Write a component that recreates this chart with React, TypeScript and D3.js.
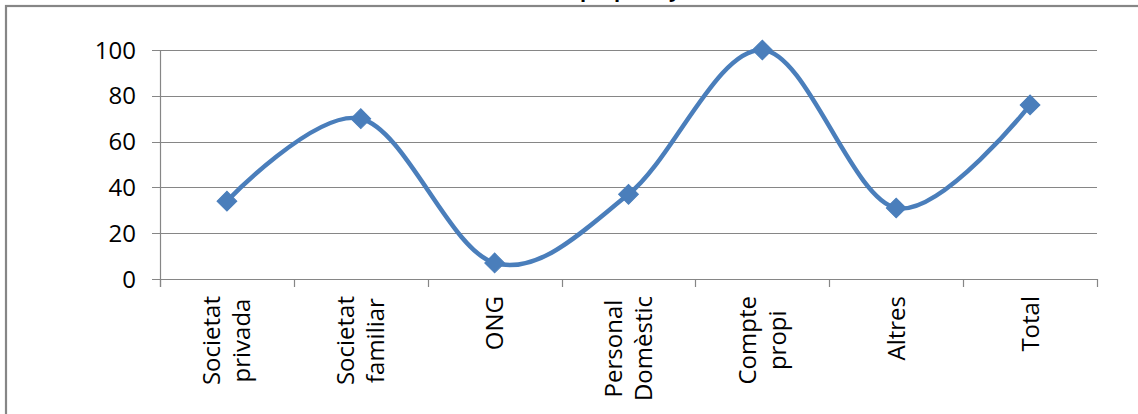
import React, { useEffect, useRef } from "react";
import * as d3 from "d3";

const categories: string[][] = [
  ["Societat", "privada"],
  ["Societat", "familiar"],
  ["ONG"],
  ["Personal", "Domèstic"],
  ["Compte", "propi"],
  ["Altres"],
  ["Total"],
];
const values = [34, 70, 7, 37, 100, 31, 76];
const yTicks = [0, 20, 40, 60, 80, 100];
const titleFragment = "propi, any";

const FONT = "'Open Sans', 'DejaVu Sans', sans-serif";
const GRID = "#868686";
const BLUE = "#4a7ebb";

export default function App() {
  const ref = useRef<SVGSVGElement>(null);

  useEffect(() => {
    const svg = d3.select(ref.current);
    svg.selectAll("*").remove();
    const W = 1138;
    const H = 414;
    const left = 160,
      right = 1097,
      top = 50,
      bottom = 279;

    svg.append("rect").attr("x", 0).attr("y", 0).attr("width", W).attr("height", H).attr("fill", "#fff");

    // cut-off title fragment (only descenders visible in the reference)
    svg
      .append("text")
      .attr("x", 580)
      .attr("y", -3.5)
      .attr("font-family", FONT)
      .attr("font-weight", "bold")
      .attr("font-size", 20)
      .attr("fill", "#000")
      .text(titleFragment);

    // outer border (extends beyond the right and bottom edges)
    svg
      .append("rect")
      .attr("x", 6)
      .attr("y", 6)
      .attr("width", 1300)
      .attr("height", 600)
      .attr("fill", "none")
      .attr("stroke", GRID)
      .attr("stroke-width", 2.2);

    const keys = categories.map((c) => c.join(" "));
    const x = d3.scaleBand<string>().domain(keys).range([left, right]).paddingInner(0).paddingOuter(0);
    const y = d3.scaleLinear().domain([0, 100]).range([bottom, top]);

    // gridlines + y ticks
    const g = svg.append("g");
    yTicks.forEach((t) => {
      g.append("line")
        .attr("x1", left - 8)
        .attr("x2", right)
        .attr("y1", Math.round(y(t)) + 0.5)
        .attr("y2", Math.round(y(t)) + 0.5)
        .attr("stroke", GRID)
        .attr("stroke-width", 1.2);
      g.append("text")
        .attr("x", left - 24)
        .attr("y", y(t))
        .attr("dy", "0.36em")
        .attr("text-anchor", "end")
        .attr("font-family", FONT)
        .attr("font-size", 24)
        .attr("fill", "#000")
        .text(String(t));
    });

    // y axis line
    g.append("line")
      .attr("x1", left + 0.5)
      .attr("x2", left + 0.5)
      .attr("y1", y(100))
      .attr("y2", bottom + 8)
      .attr("stroke", GRID)
      .attr("stroke-width", 1.2);

    // x ticks at category boundaries
    d3.range(keys.length + 1).forEach((i) => {
      const xx = Math.round(left + i * x.step()) + 0.5;
      g.append("line")
        .attr("x1", xx)
        .attr("x2", xx)
        .attr("y1", bottom)
        .attr("y2", bottom + 8)
        .attr("stroke", GRID)
        .attr("stroke-width", 1.2);
    });

    // x labels (rotated)
    categories.forEach((lines, i) => {
      const cx = (x(keys[i]) as number) + x.bandwidth() / 2;
      const lg = svg.append("g").attr("transform", `translate(${cx},296) rotate(-90)`);
      const texts = lines.map((ln, j) =>
        lg
          .append("text")
          .attr("font-family", FONT)
          .attr("font-size", 24)
          .attr("fill", "#000")
          .attr("text-anchor", "middle")
          .attr("y", (lines.length === 1 ? 8.5 : -6.5) + j * 30)
          .text(ln)
      );
      const maxLen = d3.max(texts, (t) => (t.node() as SVGTextElement).getComputedTextLength()) || 0;
      texts.forEach((t) => t.attr("x", -maxLen / 2));
    });

    // smoothed line
    const pts: [number, number][] = values.map((v, i) => [
      (x(keys[i]) as number) + x.bandwidth() / 2,
      y(v),
    ]);
    const line = d3.line().curve(d3.curveCardinal.tension(0));
    svg
      .append("path")
      .attr("d", line(pts) as string)
      .attr("fill", "none")
      .attr("stroke", BLUE)
      .attr("stroke-width", 4.5)
      .attr("stroke-linejoin", "round")
      .attr("stroke-linecap", "round");

    // diamond markers
    const sym = d3.symbol().type(d3.symbolSquare).size(196);
    pts.forEach(([px, py]) => {
      svg
        .append("path")
        .attr("d", sym() as string)
        .attr("transform", `translate(${px},${py}) rotate(45)`)
        .attr("fill", BLUE)
        .attr("stroke", BLUE)
        .attr("stroke-width", 1);
    });
  }, []);

  return (
    <svg
      ref={ref}
      width={1138}
      height={414}
      style={{ position: "absolute", left: 0, top: 0, display: "block" }}
    />
  );
}
